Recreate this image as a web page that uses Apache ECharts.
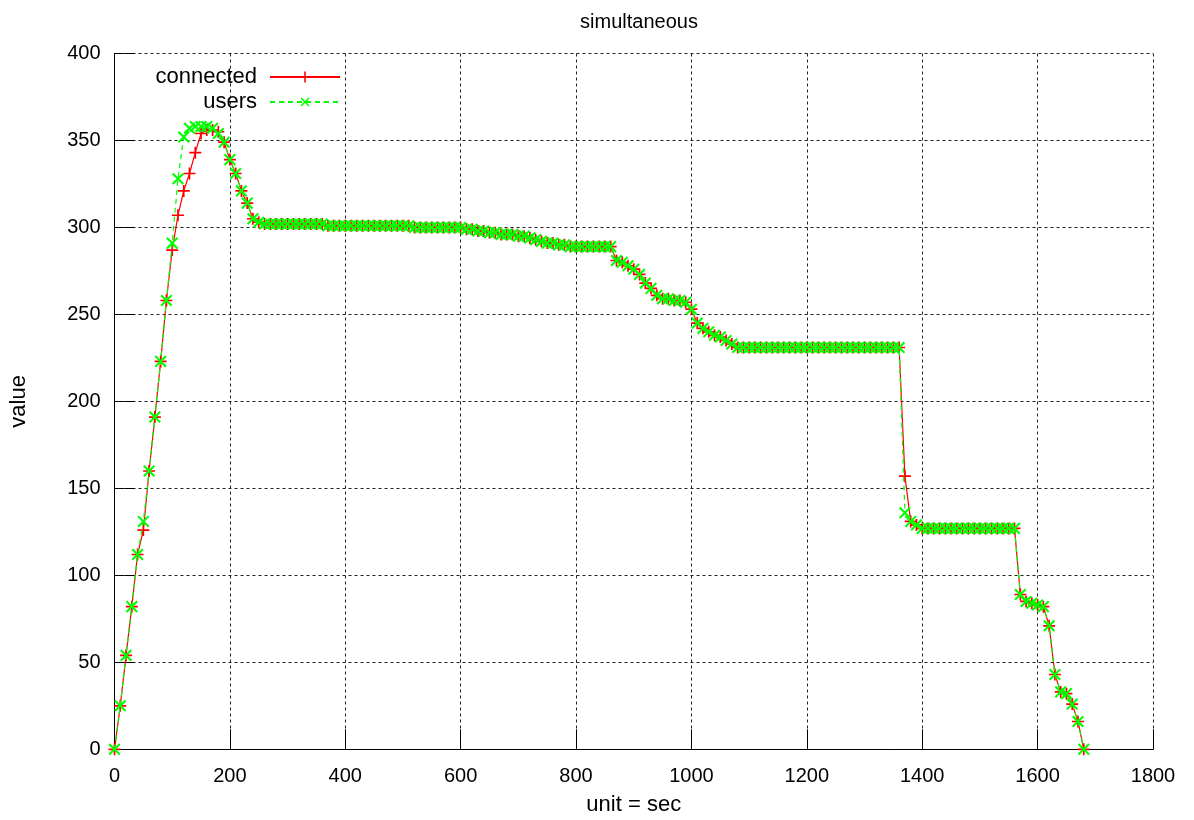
<!DOCTYPE html>
<html>
<head>
<meta charset="utf-8">
<script src="https://cdn.jsdelivr.net/npm/echarts@6/dist/echarts.min.js"></script>
<style>
html,body{margin:0;padding:0;background:#fff;}
#chart{width:1194px;height:820px;}
</style>
</head>
<body>
<div id="chart"></div>
<script>
var titleText = 'simultaneous';
var xName = 'unit = sec';
var yName = 'value';
var seriesNames = ['connected', 'users'];

var times = [
  0,10,20,30,40,50,60,70,80,90,
  100,110,120,130,140,150,160,170,180,190,
  200,210,220,230,240,250,260,270,280,290,
  300,310,320,330,340,350,360,370,380,390,
  400,410,420,430,440,450,460,470,480,490,
  500,510,520,530,540,550,560,570,580,590,
  600,610,620,630,640,650,660,670,680,690,
  700,710,720,730,740,750,760,770,780,790,
  800,810,820,830,840,850,860,870,880,890,
  900,910,920,930,940,950,960,970,980,990,
  1000,1010,1020,1030,1040,1050,1060,1070,1080,1090,
  1100,1110,1120,1130,1140,1150,1160,1170,1180,1190,
  1200,1210,1220,1230,1240,1250,1260,1270,1280,1290,
  1300,1310,1320,1330,1340,1350,1360,1370,1380,1390,
  1400,1410,1420,1430,1440,1450,1460,1470,1480,1490,
  1500,1510,1520,1530,1540,1550,1560,1570,1580,1590,
  1600,1610,1620,1630,1640,1650,1660,1670,1680
];

var connected = [
  0,25,54,82,112,126,160,191,223,258,
  287,307,321,331,343,354,356,356,355,349,
  339,331,321,314,305,303,302,302,302,302,
  302,302,302,302,302,302,302,301,301,301,
  301,301,301,301,301,301,301,301,301,301,
  301,301,300,300,300,300,300,300,300,300,
  300,299,299,298,298,297,297,296,296,296,
  295,295,294,293,292,291,291,290,290,289,
  289,289,289,289,289,289,289,281,280,278,
  276,273,268,265,261,259,259,258,258,257,
  253,245,242,240,238,237,235,233,231,231,
  231,231,231,231,231,231,231,231,231,231,
  231,231,231,231,231,231,231,231,231,231,
  231,231,231,231,231,231,231,157,131,129,
  127,127,127,127,127,127,127,127,127,127,
  127,127,127,127,127,127,127,89,85,84,
  83,82,71,43,33,32,26,16,0
];

var users = [
  0,25,54,82,112,131,160,191,223,258,
  291,328,352,357,358,358,358,357,354,349,
  339,331,321,314,305,303,302,302,302,302,
  302,302,302,302,302,302,302,301,301,301,
  301,301,301,301,301,301,301,301,301,301,
  301,301,300,300,300,300,300,300,300,300,
  300,299,299,298,298,297,297,296,296,296,
  295,295,294,293,292,291,291,290,290,289,
  289,289,289,289,289,289,289,281,280,278,
  276,273,268,265,261,259,259,258,258,257,
  253,245,242,240,238,237,235,233,231,231,
  231,231,231,231,231,231,231,231,231,231,
  231,231,231,231,231,231,231,231,231,231,
  231,231,231,231,231,231,231,136,131,129,
  127,127,127,127,127,127,127,127,127,127,
  127,127,127,127,127,127,127,89,85,84,
  83,82,71,43,33,32,26,16,0
];

var xMin = 0, xMax = 1800, xStep = 200;
var yMin = 0, yMax = 400, yStep = 50;

function pairs(ts, vs) {
  var out = [];
  for (var i = 0; i < vs.length; i++) out.push([ts[i], vs[i]]);
  return out;
}

var FONT = '"Liberation Sans", Arial, sans-serif';
var plusPath = 'path://M0,4.3H10V5.7H0Z M4.3,0H5.7V10H4.3Z';

var chart = echarts.init(document.getElementById('chart'), null, {renderer: 'canvas'});

var gridLine = {show: true, lineStyle: {color: '#222', width: 1, type: [3, 3]}};
var axisLineStyle = {show: true, lineStyle: {color: '#000', width: 1}};
var noTick = {show: false};
var tickOut = {show: true, inside: false, length: 10, lineStyle: {color: '#000', width: 1}};

function tickAxis(pos, kind) {
  var a = {
    type: 'value', position: pos, offset: -10,
    axisLine: {show: false}, axisTick: tickOut,
    axisLabel: {show: false}, splitLine: {show: false}
  };
  if (kind === 'x') { a.min = xMin; a.max = xMax; a.interval = xStep; }
  else { a.min = yMin; a.max = yMax; a.interval = yStep; }
  return a;
}

var option = {
  animation: false,
  backgroundColor: '#fff',
  title: {
    text: titleText,
    left: 634, top: 7, textAlign: 'center',
    textStyle: {fontFamily: FONT, fontSize: 20, fontWeight: 'normal', color: '#000'}
  },
  legend: {
    data: seriesNames,
    orient: 'vertical',
    left: 137, top: 61,
    align: 'right',
    itemWidth: 70, itemHeight: 14, itemGap: 3,
    textStyle: {fontFamily: FONT, fontSize: 22, lineHeight: 22, color: '#000',
                width: 115, align: 'right', padding: [0, 8, 0, 0]}
  },
  grid: {left: 114.5, right: 41, top: 53.5, bottom: 70.7,
         containLabel: false, outerBoundsMode: 'none'},
  xAxis: [{
    type: 'value', min: xMin, max: xMax, interval: xStep,
    name: xName, nameLocation: 'middle', nameGap: 45,
    nameTextStyle: {fontFamily: FONT, fontSize: 22, color: '#000'},
    axisLine: axisLineStyle,
    axisTick: noTick,
    axisLabel: {fontFamily: FONT, fontSize: 20, color: '#000', margin: 17,
                formatter: function (v) { return String(v); }},
    splitLine: gridLine
  }, {
    type: 'value', min: xMin, max: xMax, interval: xStep, position: 'top',
    axisLine: axisLineStyle, axisTick: noTick,
    axisLabel: {show: false}, splitLine: {show: false}
  }, tickAxis('bottom', 'x'), tickAxis('top', 'x')],
  yAxis: [{
    type: 'value', min: yMin, max: yMax, interval: yStep,
    name: yName, nameLocation: 'middle', nameGap: 85, nameRotate: 90,
    nameTextStyle: {fontFamily: FONT, fontSize: 22, color: '#000'},
    axisLine: axisLineStyle,
    axisTick: noTick,
    axisLabel: {fontFamily: FONT, fontSize: 20, color: '#000', margin: 14},
    splitLine: gridLine
  }, {
    type: 'value', min: yMin, max: yMax, interval: yStep, position: 'right',
    axisLine: axisLineStyle, axisTick: noTick,
    axisLabel: {show: false}, splitLine: {show: false}
  }, tickAxis('left', 'y'), tickAxis('right', 'y')],
  series: [{
    name: seriesNames[0], type: 'line',
    xAxisIndex: 0, yAxisIndex: 0,
    data: pairs(times, connected),
    symbol: plusPath, symbolSize: 12, showSymbol: true,
    itemStyle: {color: '#ff0000'},
    lineStyle: {color: '#ff0000', width: 1.2, type: 'solid'},
    emphasis: {disabled: true}, z: 2
  }, {
    name: seriesNames[1], type: 'line',
    xAxisIndex: 0, yAxisIndex: 0,
    data: pairs(times, users),
    symbol: plusPath, symbolSize: 15, symbolRotate: 45, showSymbol: true,
    itemStyle: {color: '#00ff00'},
    lineStyle: {color: '#00ff00', width: 1.2, type: [5, 4]},
    emphasis: {disabled: true}, z: 3
  }]
};
chart.setOption(option);
</script>
</body>
</html>
